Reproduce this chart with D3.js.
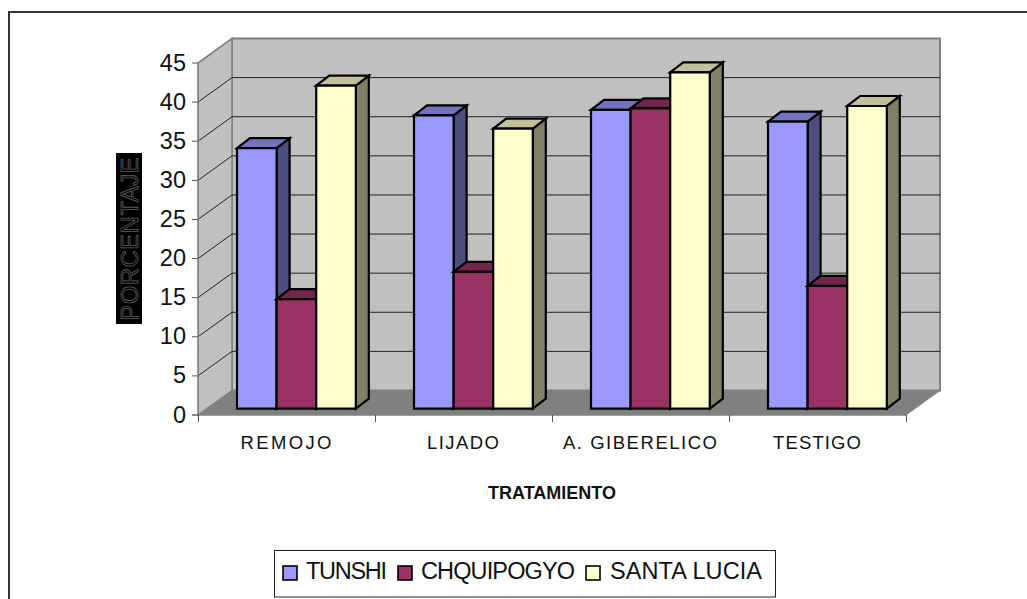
<!DOCTYPE html>
<html><head><meta charset="utf-8">
<script src="https://cdn.jsdelivr.net/npm/d3@7/dist/d3.min.js"></script>
<style>html,body{margin:0;padding:0;background:#fff}svg{display:block}text{font-family:"Liberation Sans",Arial,sans-serif;fill:#111}</style>
</head><body><svg id="c" width="1027" height="599"></svg>
<script>
const categories=["REMOJO","LIJADO","A. GIBERELICO","TESTIGO"];
const seriesNames=["TUNSHI","CHQUIPOGYO","SANTA LUCIA"];
const tunshi=[33.3,37.5,38.2,36.7];
const chquipogyo=[14.0,17.5,38.4,15.7];
const santaLucia=[41.3,35.8,43.0,38.7];
const yTicks=[0,5,10,15,20,25,30,35,40,45];
const seriesValues=[tunshi,chquipogyo,santaLucia];
const front=["#9999ff","#993366","#ffffcc"],top_=["#7373c0","#73264d","#c0c099"],side=["#4d4d80","#4d1a33","#808066"];

const svg=d3.select("#c");
const x=d3.scaleBand().domain(categories).range([198,906]);
const y=d3.scaleLinear().domain([0,45]).range([415,63]);
const dx=34,dy=24.5;                 // wall depth
const bx=39,by=6.3,bdx=13,bdy=10;    // bar inset and depth
const barW=39.6;
const poly=(pts,f,s,w)=>svg.append("polygon").attr("points",pts.map(p=>p.join(",")).join(" ")).attr("fill",f).attr("stroke",s).attr("stroke-width",w).attr("stroke-linejoin","miter");

// outer frame
svg.append("path").attr("d","M9,610V12H1040").attr("fill","none").attr("stroke","#333").attr("stroke-width",2);

const x0=x.range()[0],x1=x.range()[1],y0=y(0),yT=y(45);
// walls
poly([[x0+dx,yT-dy],[x1+dx,yT-dy],[x1+dx,y0-dy],[x0+dx,y0-dy]],"#c0c0c0","#808080",2);
poly([[x0,yT],[x0+dx,yT-dy],[x0+dx,y0-dy],[x0,y0]],"#c0c0c0","#808080",1.5);
poly([[x0,y0],[x0+dx,y0-dy],[x1+dx,y0-dy],[x1,y0]],"#808080","#808080",1);

// gridlines
yTicks.filter(t=>t>0&&t<45).forEach(t=>{
  svg.append("path").attr("d",`M${x0},${y(t)}L${x0+dx},${y(t)-dy}L${x1+dx},${y(t)-dy}`).attr("fill","none").attr("stroke","#222").attr("stroke-width",1);
});
svg.append("path").attr("d",`M${x0},${yT}L${x0+dx},${yT-dy}`).attr("stroke","#808080").attr("stroke-width",1.5);

// axis lines and ticks
svg.append("line").attr("x1",x0+.5).attr("x2",x0+.5).attr("y1",yT).attr("y2",y0+7).attr("stroke","#808080");
svg.append("line").attr("x1",x0-6).attr("x2",x1).attr("y1",y0).attr("y2",y0).attr("stroke","#808080").attr("stroke-width",1.2);
yTicks.forEach(t=>{
  svg.append("line").attr("x1",x0-6).attr("x2",x0).attr("y1",y(t)).attr("y2",y(t)).attr("stroke","#555");
  svg.append("text").attr("x",x0-12).attr("y",y(t)+7.5).attr("text-anchor","end").attr("font-size",23.5).text(t);
});
[...categories.map(c=>x(c)),x1].forEach(v=>{
  svg.append("line").attr("x1",v+.5).attr("x2",v+.5).attr("y1",y0).attr("y2",y0+7).attr("stroke","#555");
});
const labelW=[91,72,154,88];
categories.forEach((c,i)=>{
  svg.append("text").attr("x",x(c)+x.bandwidth()/2-.5).attr("y",448.5).attr("text-anchor","middle").attr("font-size",18.5).attr("textLength",labelW[i]).text(c);
});

// bars
categories.forEach((c,ci)=>{
  seriesValues.forEach((vals,si)=>{
    const l=x(c)+bx+si*barW, r=l+barW, b=y0-by, t=y(vals[ci])-by;
    poly([[r,b],[r+bdx,b-bdy],[r+bdx,t-bdy],[r,t]],side[si],"#000",2.2);
    poly([[l,t],[l+bdx,t-bdy],[r+bdx,t-bdy],[r,t]],top_[si],"#000",2.2);
    poly([[l,b],[r,b],[r,t],[l,t]],front[si],"#000",2.2);
  });
});

// y title
svg.append("rect").attr("x",116).attr("y",153).attr("width",26).attr("height",171).attr("fill","#000");
svg.append("text").attr("transform","translate(138,320.5) rotate(-90)").attr("font-size",23.5).attr("textLength",163)
  .style("fill","#000").attr("stroke","#5f5f5f").attr("stroke-width",.8).text("PORCENTAJE");

// x title
svg.append("text").attr("x",552).attr("y",499).attr("text-anchor","middle").attr("font-size",18).attr("font-weight","bold").text("TRATAMIENTO");

// legend
svg.append("rect").attr("x",274.5).attr("y",550.5).attr("width",501).attr("height",46.5).attr("fill","#fff").attr("stroke","#222").attr("stroke-width",1);
const legendX=[283,398,586],textX=[306,421,610],textW=[81,154,152];
seriesNames.forEach((n,i)=>{
  svg.append("rect").attr("x",legendX[i]).attr("y",566).attr("width",14).attr("height",14).attr("fill",front[i]).attr("stroke","#000").attr("stroke-width",1.6);
  svg.append("text").attr("x",textX[i]).attr("y",579).attr("font-size",23.5).attr("textLength",textW[i]).text(n);
});
</script></body></html>
